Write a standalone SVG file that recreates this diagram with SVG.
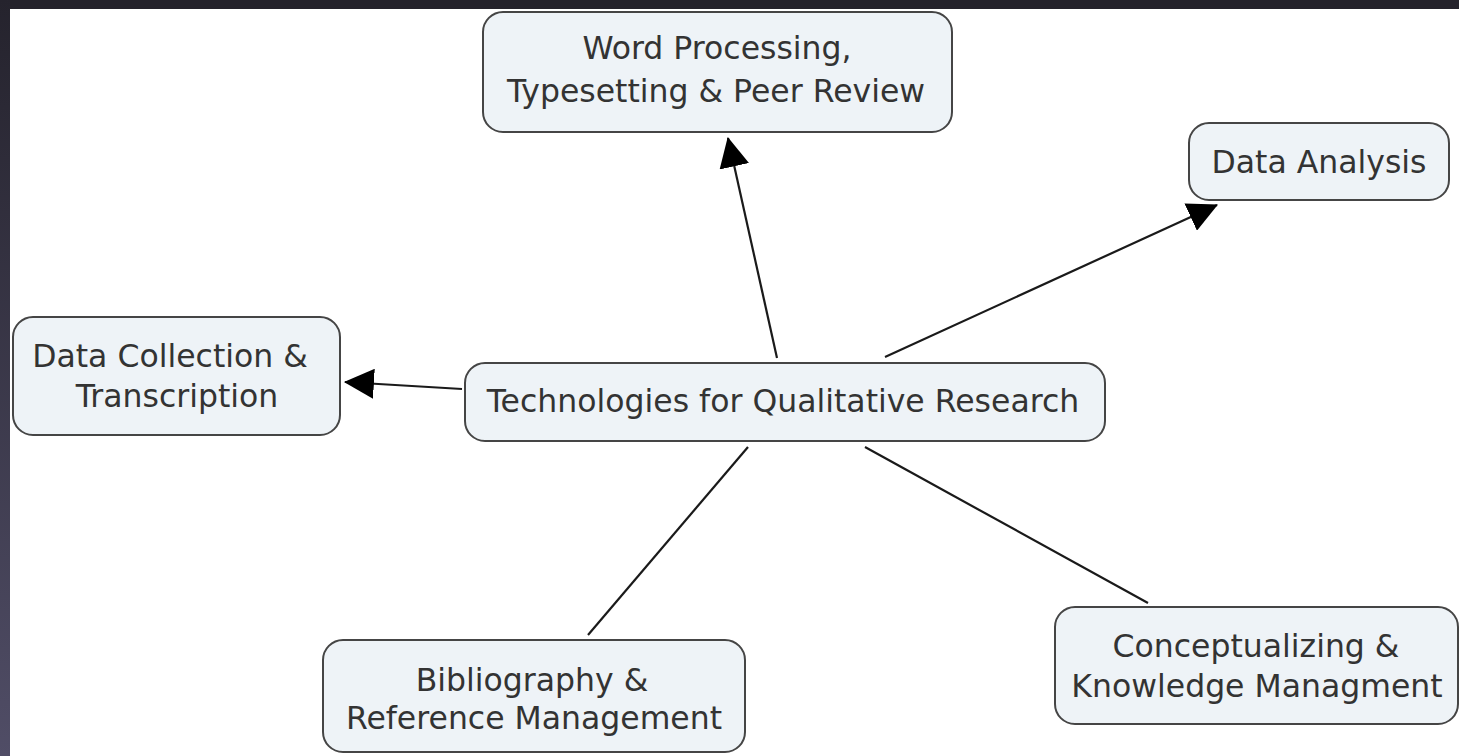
<svg xmlns="http://www.w3.org/2000/svg" width="1459" height="756" viewBox="0 0 1459 756">
<style>
.box{fill:#eef3f7;stroke:#454545;stroke-width:2}
.lbl{font-family:"DejaVu Sans","Verdana",sans-serif;font-size:31.5px;fill:#333333;text-anchor:middle}
.edge{stroke:#1a1a1a;stroke-width:2.2;fill:none}
</style>
<defs>
<linearGradient id="side" x1="0" y1="0" x2="0" y2="1">
<stop offset="0" stop-color="#25232d"/>
<stop offset="1" stop-color="#504d66"/>
</linearGradient>
<marker id="arr" markerUnits="userSpaceOnUse" markerWidth="30" markerHeight="30" viewBox="0 0 28 28" refX="27" refY="14" orient="auto">
<path d="M0,0 L28,14 L0,28 Z" fill="#000"/>
</marker>
</defs>
<rect x="0" y="0" width="1459" height="756" fill="#ffffff"/>
<rect x="0" y="0" width="1459" height="9" fill="#24222b"/>
<rect x="0" y="0" width="10" height="756" fill="url(#side)"/>
<g id="connectors">
<line class="edge" x1="777" y1="358" x2="728" y2="138" marker-end="url(#arr)"/>
<line class="edge" x1="885" y1="357" x2="1217" y2="205" marker-end="url(#arr)"/>
<line class="edge" x1="462" y1="389" x2="345" y2="382" marker-end="url(#arr)"/>
<line class="edge" x1="748" y1="447" x2="588" y2="635"/>
<line class="edge" x1="865" y1="447" x2="1148" y2="603"/>
</g>
<g id="node-word">
<rect class="box" x="483" y="12" width="469" height="120" rx="20"/>
<text class="lbl" x="717" y="59">Word Processing,</text>
<text class="lbl" x="716" y="102">Typesetting &amp; Peer Review</text>
</g>
<g id="node-analysis">
<rect class="box" x="1189" y="123" width="260" height="77" rx="20"/>
<text class="lbl" x="1319" y="173">Data Analysis</text>
</g>
<g id="node-collection">
<rect class="box" x="13" y="317" width="327" height="118" rx="20"/>
<text class="lbl" x="170" y="367">Data Collection &amp;</text>
<text class="lbl" x="177" y="407">Transcription</text>
</g>
<g id="node-central">
<rect class="box" x="465" y="363" width="640" height="78" rx="20"/>
<text class="lbl" x="783" y="412">Technologies for Qualitative Research</text>
</g>
<g id="node-bibliography">
<rect class="box" x="323" y="640" width="422" height="112" rx="20"/>
<text class="lbl" x="532" y="691">Bibliography &amp;</text>
<text class="lbl" x="534" y="729">Reference Management</text>
</g>
<g id="node-conceptualizing">
<rect class="box" x="1055" y="607" width="403" height="117" rx="20"/>
<text class="lbl" x="1256" y="657">Conceptualizing &amp;</text>
<text class="lbl" x="1257" y="697">Knowledge Managment</text>
</g>
</svg>
